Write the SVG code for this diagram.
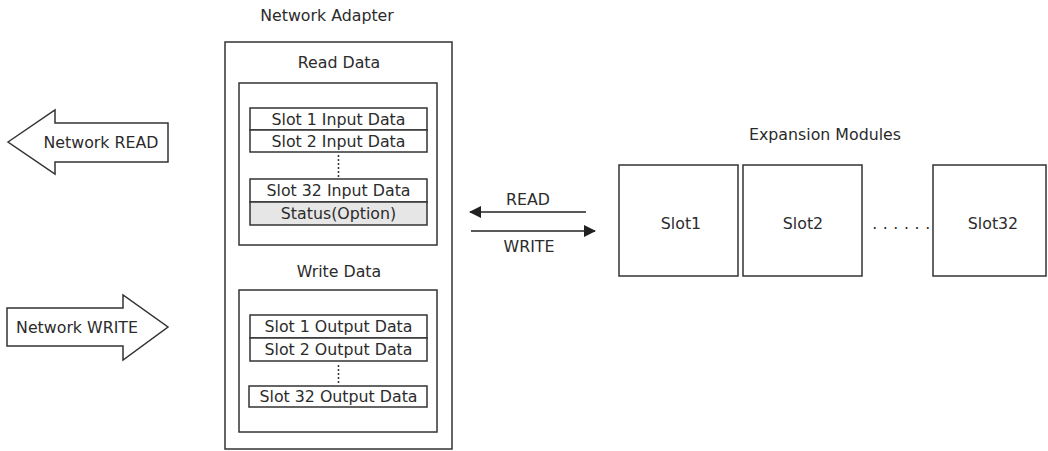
<svg xmlns="http://www.w3.org/2000/svg" width="1048" height="451" viewBox="0 0 1048 451">
<style>
text{font-family:"DejaVu Sans","Liberation Sans",sans-serif;font-size:15.8px;fill:#2b2b2b;text-anchor:middle}
.b{fill:#fff;stroke:#333;stroke-width:1.5}
.s{fill:#e6e6e6;stroke:#333;stroke-width:1.5}
.l{stroke:#222;stroke-width:1.5;fill:none}
.d{stroke:#333;stroke-width:1.5;stroke-dasharray:2 2;fill:none}
</style>
<defs>
<marker id="ah" viewBox="0 0 12 12" refX="11" refY="6" markerWidth="12" markerHeight="12" markerUnits="userSpaceOnUse" orient="auto">
<path d="M0,0 L12,6 L0,12 Z" fill="#222"/>
</marker>
</defs>
<rect width="1048" height="451" fill="#fff"/>
<g id="network-read">
<polygon class="b" points="8,142 55,110 55,123 168,123 168,162 55,162 55,174"/>
<text x="101" y="148">Network READ</text>
</g>
<g id="network-write">
<polygon class="b" points="7,308 123,308 123,295 168,327 123,360 123,346 7,346"/>
<text x="77" y="333">Network WRITE</text>
</g>
<g id="network-adapter">
<text x="327" y="21">Network Adapter</text>
<rect class="b" x="225" y="42" width="227" height="407"/>
</g>
<g id="read-data">
<text x="339" y="68">Read Data</text>
<rect class="b" x="239" y="83" width="198" height="162"/>
<rect class="b" x="250" y="108" width="177" height="22"/>
<text x="338.5" y="125">Slot 1 Input Data</text>
<rect class="b" x="250" y="130" width="177" height="22"/>
<text x="338.5" y="147">Slot 2 Input Data</text>
<line class="d" x1="338.5" y1="155" x2="338.5" y2="177"/>
<rect class="b" x="250" y="179" width="177" height="23"/>
<text x="338.5" y="196">Slot 32 Input Data</text>
<rect class="s" x="250" y="202" width="177" height="23"/>
<text x="338.5" y="219">Status(Option)</text>
</g>
<g id="write-data">
<text x="339" y="277">Write Data</text>
<rect class="b" x="239" y="290" width="198" height="142"/>
<rect class="b" x="250" y="315" width="177" height="23"/>
<text x="338.5" y="332">Slot 1 Output Data</text>
<rect class="b" x="250" y="338" width="177" height="23"/>
<text x="338.5" y="355">Slot 2 Output Data</text>
<line class="d" x1="338.5" y1="365" x2="338.5" y2="384"/>
<rect class="b" x="249" y="386" width="178" height="21"/>
<text x="338.5" y="402">Slot 32 Output Data</text>
</g>
<g id="connectors">
<line class="l" x1="586" y1="212" x2="470" y2="212" marker-end="url(#ah)"/>
<text x="528" y="205">READ</text>
<line class="l" x1="471" y1="231" x2="595" y2="231" marker-end="url(#ah)"/>
<text x="529" y="252">WRITE</text>
</g>
<g id="expansion-modules">
<text x="825" y="140">Expansion Modules</text>
</g>
<g id="slot1">
<rect class="b" x="619" y="165" width="119" height="111"/>
<text x="681" y="229">Slot1</text>
</g>
<g id="slot2">
<rect class="b" x="743" y="165" width="119" height="111"/>
<text x="803" y="229">Slot2</text>
</g>
<g id="dots">
<text x="904" y="229" style="letter-spacing:5.6px">......</text>
</g>
<g id="slot32">
<rect class="b" x="933" y="165" width="113" height="111"/>
<text x="993" y="229">Slot32</text>
</g>
</svg>
